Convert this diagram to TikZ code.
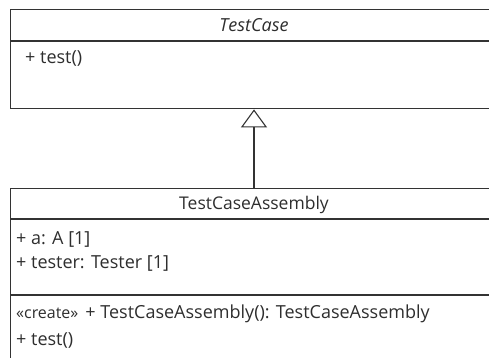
\documentclass[tikz,border=0pt]{standalone}
\usepackage{fontspec}
\setmainfont{Open Sans}
\usetikzlibrary{arrows.meta}
\definecolor{umlline}{HTML}{333333}
\definecolor{umltext}{HTML}{2E2E2E}
\begin{document}
\begin{tikzpicture}[
        x=1pt, y=-1pt,
        classbox/.style = {rectangle, draw=umlline, line width=1.4pt, minimum width=490pt, inner sep=0pt, anchor=north west},
        title/.style = {inner sep=0pt, text=umltext, font=\fontsize{17.5}{20}\selectfont},
        member/.style = {inner sep=0pt, anchor=west, text=umltext, font=\fontsize{18}{20}\selectfont},
        inherit/.style = {draw=umlline, line width=1.1pt, -{Triangle[open, width=26pt, length=18pt]}}
    ]
    \useasboundingbox (0,0) rectangle (489,357);
    \clip (0,0) rectangle (489,357);
    % abstract base class
    \node[classbox, minimum height=99pt] (testcase) at (10,9) {};
    \draw[umlline, line width=1.4pt] ([yshift=-32pt]testcase.north west) coordinate (tcsep) -- (tcsep -| testcase.east);
    \node[title, font=\fontsize{18}{20}\selectfont\itshape] (tcname) at (254,25) {TestCase};
    \node[member] (tcop) at (25,58) {+ test()};
    % derived class
    \node[classbox, minimum height=190pt] (assembly) at (10,188) {};
    \draw[umlline, line width=1.4pt] ([yshift=-31pt]assembly.north west) coordinate (asep) -- (asep -| assembly.east);
    \draw[umlline, line width=1.4pt] ([yshift=-107pt]assembly.north west) coordinate (bsep) -- (bsep -| assembly.east);
    \node[title] (asname) at (254,205) {TestCaseAssembly};
    \node[member] (attra) at (16,239) {+ a: A [1]};
    \node[member] (attrb) at (16,263) {+ tester: Tester [1]};
    \node[member] (opa) at (16,314) {{\fontsize{16}{18}\selectfont «create»}\hspace{7pt}+ TestCaseAssembly(): TestCaseAssembly};
    \node[member] (opb) at (16,340) {+ test()};
    % generalization
    \draw[inherit] (assembly.north -| tcname) -- (testcase.south -| tcname);
\end{tikzpicture}
\end{document}
